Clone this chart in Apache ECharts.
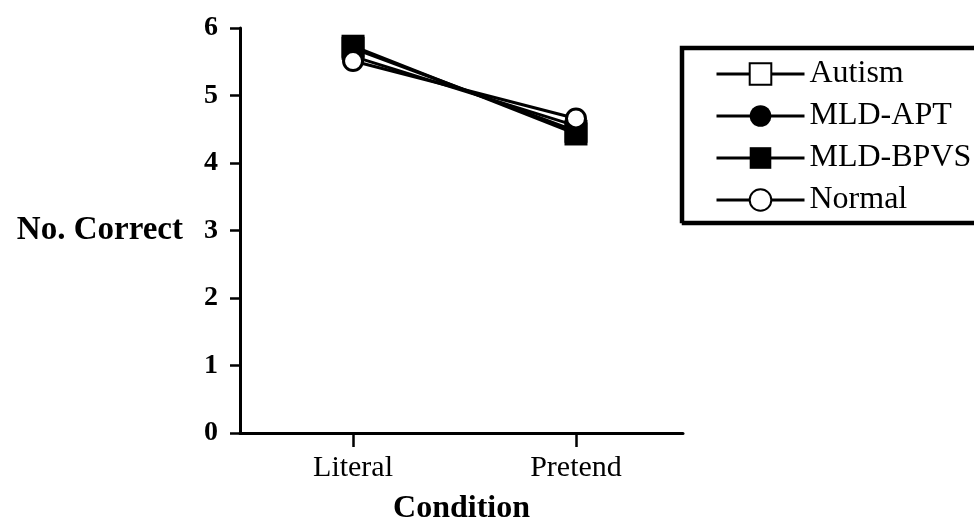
<!DOCTYPE html>
<html>
<head>
<meta charset="utf-8">
<title>No. Correct by Condition</title>
<script src="https://cdn.jsdelivr.net/npm/echarts@6/dist/echarts.min.js"></script>
<style>
  html, body { margin: 0; padding: 0; background: #fff; }
  #chart { width: 974px; height: 531px; }
</style>
</head>
<body>
<div id="chart"></div>
<script>
// Conditions along the x axis
const conditions = ['Literal', 'Pretend'];

// Mean number correct per group, one value per condition
const autism   = [5.70, 4.47];
const mldApt   = [5.58, 4.55];
const mldBpvs  = [5.73, 4.43];
const normal   = [5.51, 4.66];

// y-axis tick values
const yTicks = [0, 1, 2, 3, 4, 5, 6];

const serif = '"Liberation Serif", "Times New Roman", serif';

function toPoints(values) {
  return values.map((v, i) => [i, v]);
}

function groupSeries(name, values, symbol, size, fill) {
  return {
    name: name,
    type: 'line',
    data: toPoints(values),
    symbol: symbol,
    symbolSize: size,
    lineStyle: { color: '#000', width: 3 },
    itemStyle: { color: fill, borderColor: '#000', borderWidth: fill === '#fff' ? 3 : 0, opacity: 1 },
    emphasis: { disabled: true },
    animation: false
  };
}

const chart = echarts.init(document.getElementById('chart'), null, { renderer: 'canvas' });

chart.setOption({
  backgroundColor: '#fff',
  animation: false,
  grid: {
    left: 240, top: 28, right: 291, bottom: 98,
    containLabel: false,
    outerBoundsMode: 'none'
  },
  legend: {
    left: 681,
    top: 47,
    orient: 'vertical',
    align: 'left',
    padding: [9, 40, 4, 34],
    itemWidth: 88,
    itemHeight: 27,
    itemGap: 6,
    borderColor: '#000',
    borderWidth: 2.5,
    shadowColor: '#000',
    shadowOffsetX: 2,
    shadowOffsetY: 2,
    shadowBlur: 0,
    backgroundColor: '#fff',
    selectedMode: false,
    lineStyle: { width: 3, color: '#000' },
    textStyle: { fontFamily: serif, fontSize: 32, color: '#000', lineHeight: 36 },
    data: ['Autism', 'MLD-APT', 'MLD-BPVS', 'Normal']
  },
  xAxis: {
    type: 'value',
    min: -0.507,
    max: 1.48,
    name: 'Condition',
    nameLocation: 'middle',
    nameGap: 60,
    nameMoveOverlap: false,
    nameTextStyle: { fontFamily: serif, fontSize: 32, fontWeight: 'bold', color: '#000' },
    splitLine: { show: false },
    axisLine: { show: true, onZero: false, lineStyle: { color: '#000', width: 3 } },
    axisTick: {
      show: true, inside: false, length: 14,
      lineStyle: { color: '#000', width: 2.5 },
      customValues: [0, 1]
    },
    axisLabel: {
      margin: 20,
      fontFamily: serif, fontSize: 30, color: '#000',
      customValues: [0, 1],
      formatter: (v) => conditions[Math.round(v)]
    }
  },
  yAxis: {
    type: 'value',
    min: yTicks[0],
    max: yTicks[yTicks.length - 1],
    interval: 1,
    name: 'No. Correct',
    nameLocation: 'middle',
    nameRotate: 0,
    nameGap: 57,
    nameMoveOverlap: false,
    nameTextStyle: {
      fontFamily: serif, fontSize: 33, fontWeight: 'bold', color: '#000',
      padding: [0, 0, 58, 0]
    },
    splitLine: { show: false },
    axisLine: { show: true, onZero: false, lineStyle: { color: '#000', width: 3 } },
    axisTick: { show: true, inside: false, length: 10, lineStyle: { color: '#000', width: 2.5 } },
    axisLabel: {
      margin: 22,
      fontFamily: serif, fontSize: 28, fontWeight: 'bold', color: '#000'
    }
  },
  series: [
    groupSeries('Autism', autism, 'rect', 20, '#fff'),
    groupSeries('MLD-APT', mldApt, 'circle', 21, '#000'),
    groupSeries('MLD-BPVS', mldBpvs, 'rect', 23, '#000'),
    groupSeries('Normal', normal, 'circle', 19, '#fff')
  ]
});
</script>
</body>
</html>
